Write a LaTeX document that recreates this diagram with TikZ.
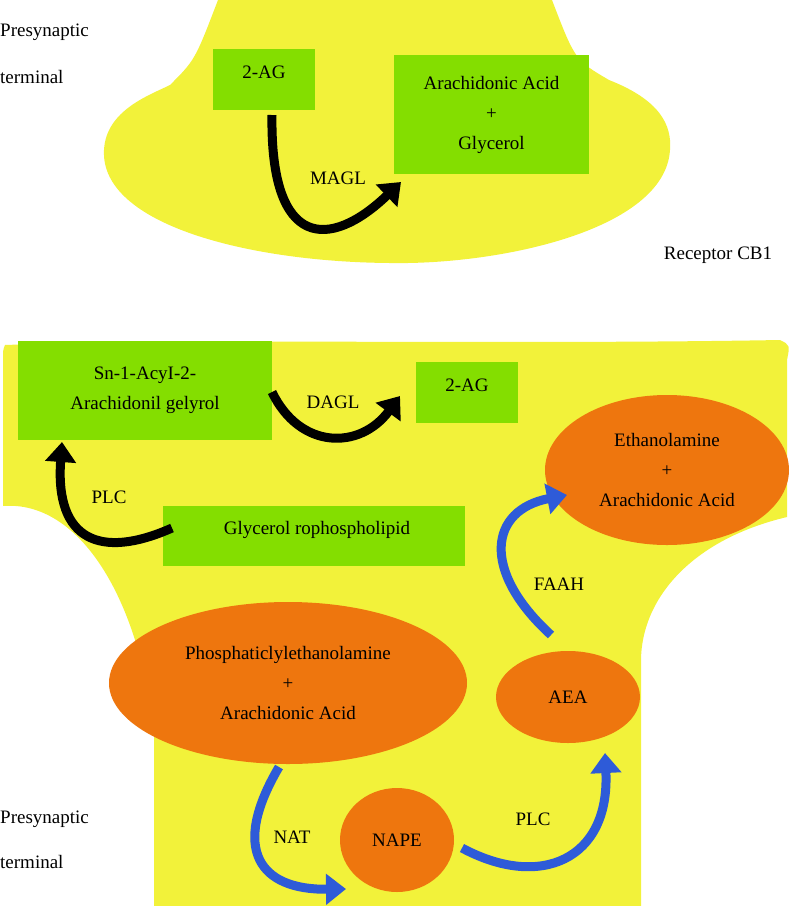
\documentclass[tikz,border=0pt]{standalone}
\usepackage{fontspec}
\setmainfont{Liberation Serif}
\usetikzlibrary{arrows.meta,shapes.geometric}
\definecolor{yel}{HTML}{F2F23A}
\definecolor{grn}{HTML}{84DE00}
\definecolor{org}{HTML}{EE760E}
\definecolor{blu}{HTML}{2E5BD8}
\begin{document}
\begin{tikzpicture}[x=1pt,y=-1pt,
  txt/.style={font=\fontsize{19}{30}\selectfont,align=center,inner sep=0pt},
  box/.style={txt,fill=grn,anchor=north west},
  ell/.style={txt,ellipse,fill=org},
  blk/.style={line width=9pt,black,-{Triangle[length=20pt,width=30pt]}},
  bl/.style={line width=9pt,blu,-{Triangle[length=20pt,width=30pt]}},
  lab/.style={txt}]
\useasboundingbox (0,0) rectangle (794,906);
% top terminal
\fill[yel] (218,0) -- (552,0) .. controls (575,60) .. (609,80) .. controls (660,100) and (672,125) .. (670,150) .. controls (665,230) and (500,265) .. (390,263) .. controls (250,262) and (100,225) .. (104,150) .. controls (106,110) and (150,95) .. (170,85) .. controls (195,60) .. (218,0) -- cycle;
% bottom terminal
\fill[yel] (5,345) .. controls (200,338) and (500,345) .. (780,340) .. controls (790,345) .. (787,360) -- (787,517) .. controls (690,540) and (641,600) .. (641,661) -- (641,906) -- (154,906) -- (154,734) .. controls (140,600) and (80,500) .. (3,506) -- (3,360) .. controls (3,350) .. (5,345) -- cycle;
% texts
\node[txt,anchor=west] (pt1) at (0,32) {Presynaptic};
\node[txt,anchor=west] (pt2) at (0,77) {terminal};
\node[txt,anchor=west] (pb1) at (0,819) {Presynaptic};
\node[txt,anchor=west] (pb2) at (0,862) {terminal};
\node[txt] (cb1) at (718,255) {Receptor CB1};
% top nodes
\node[box,minimum width=102pt,minimum height=61pt] (ag1) at (213,49) {};
\node[txt] at (264,72) {2-AG};
\node[box,minimum width=195pt,minimum height=119pt] (aa) at (394,55) {};
\node[txt] at (491.5,115) {Arachidonic Acid\\+\\Glycerol};
\coordinate (m1) at (272,115);
\coordinate (m2) at (401,182);
\draw[blk] (m1) .. controls (270,250) and (330,250) .. (m2);
\node[lab] (magl) at (338,178) {MAGL};
% bottom nodes
\node[box,minimum width=254pt,minimum height=99pt] (sn) at (18,341) {};
\node[txt] at (145,390) {Sn-1-AcyI-2-\\Arachidonil gelyrol};
\node[box,minimum width=102pt,minimum height=61pt] (ag2) at (416,362) {};
\node[txt] at (467,385) {2-AG};
\node[box,minimum width=302pt,minimum height=60pt] (gly) at (163,506) {};
\node[txt] at (317,530) {Glycerol rophospholipid};
\node[ell,minimum width=244pt,minimum height=150pt] (eth) at (667,470) {Ethanolamine\\+\\Arachidonic Acid};
\node[ell,minimum width=358pt,minimum height=162pt] (phos) at (288,683) {Phosphaticlylethanolamine\\+\\Arachidonic Acid};
\node[ell,minimum width=144pt,minimum height=92pt] (aea) at (568,697) {AEA};
\node[ell,minimum width=114pt,minimum height=104pt] (nape) at (397,840) {NAPE};
% arrows
\draw[blk] (272,392) .. controls (300,450) and (360,450) .. (400,396);
\node[lab] (dagl) at (333,402) {DAGL};
\draw[blk] (172,528) .. controls (100,560) and (55,540) .. (62,442);
\node[lab] (plc1) at (109,497) {PLC};
\draw[bl] (551,635) .. controls (480,570) and (490,510) .. (567,495);
\node[lab] (faah) at (559,584) {FAAH};
\draw[bl] (279,767) .. controls (230,850) and (260,890) .. (346,889);
\node[lab] (nat) at (292,837) {NAT};
\draw[bl] (462,848) .. controls (540,890) and (610,860) .. (605,753);
\node[lab] (plc2) at (533,819) {PLC};
\end{tikzpicture}
\end{document}
